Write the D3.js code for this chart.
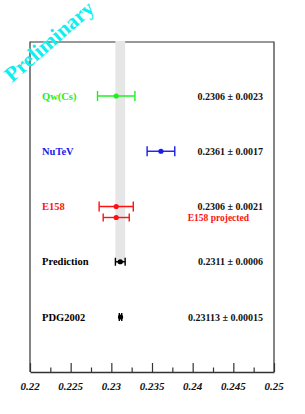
<!DOCTYPE html>
<html>
<head>
<meta charset="utf-8">
<script src="https://cdn.jsdelivr.net/npm/d3@7"></script>
<style>
  body { margin: 0; background: #fff; }
  svg { display: block; }
  text { font-family: "Liberation Serif", "DejaVu Serif", serif; font-weight: bold; }
</style>
</head>
<body>
<svg id="chart" width="305" height="414"></svg>
<script>
// measurements of sin^2(theta_W)
const names = ["Qw(Cs)", "NuTeV", "E158", "Prediction", "PDG2002"];
const values = [0.2306, 0.2361, 0.2306, 0.2311, 0.23113];
const errors = [0.0023, 0.0017, 0.0021, 0.0006, 0.00015];
const valueLabels = ["0.2306 \u00b1 0.0023", "0.2361 \u00b1 0.0017", "0.2306 \u00b1 0.0021",
                     "0.2311 \u00b1 0.0006", "0.23113 \u00b1 0.00015"];

// projected E158 result
const projName = "E158 projected";
const projValue = 0.2306;
const projError = 0.0016;

const xTicks = [0.22, 0.225, 0.23, 0.235, 0.24, 0.245, 0.25];
const xMinorTicks = [0.2225, 0.2275, 0.2325, 0.2375, 0.2425, 0.2475];

const colors = ["#22ee22", "#1a1aee", "#ff1111", "#000000", "#000000"];

const svg = d3.select("#chart");
const plotLeft = 30, plotRight = 274, plotTop = 42, plotBottom = 372;

const x = d3.scaleLinear().domain([0.22, 0.25]).range([plotLeft, plotRight]);
const y = d3.scalePoint().domain(names).range([96, 317]);

// frame (top, left, right)
const frame = d3.path();
frame.moveTo(plotLeft, plotBottom);
frame.lineTo(plotLeft, plotTop);
frame.lineTo(plotRight, plotTop);
frame.lineTo(plotRight, plotBottom);
svg.append("path")
    .attr("d", frame.toString())
    .attr("fill", "none")
    .attr("stroke", "#333")
    .attr("stroke-width", 1.2);

// grey band = prediction range, drawn over the top border
const pi = names.indexOf("Prediction");
svg.append("rect")
    .attr("x", x(values[pi] - errors[pi]))
    .attr("y", plotTop - 1)
    .attr("width", x(values[pi] + errors[pi]) - x(values[pi] - errors[pi]))
    .attr("height", y("Prediction") + 3 - plotTop)
    .attr("fill", "#e6e6e6");

// bottom axis, ticks point inward
const axis = svg.append("g").attr("transform", `translate(0,${plotBottom})`);
axis.call(d3.axisBottom(x).tickValues(xTicks).tickSize(-9).tickFormat("").tickSizeOuter(0));
const minor = axis.append("g").call(d3.axisBottom(x).tickValues(xMinorTicks).tickSize(-4.5).tickFormat(""));
minor.select("path.domain").remove();
axis.selectAll("path.domain").attr("stroke", "#333").attr("stroke-width", 1.6);
axis.selectAll(".tick line").attr("stroke", "#333").attr("stroke-width", 1.2);

svg.append("g").selectAll("text")
    .data(xTicks)
    .join("text")
    .attr("x", d => x(d))
    .attr("y", 390)
    .attr("text-anchor", "middle")
    .attr("font-size", 11)
    .attr("font-style", "italic")
    .attr("fill", "#111")
    .text(d => d3.format("")(d));

function errorBar(g, val, err, cy, color, cap) {
    g.append("line")
        .attr("x1", x(val - err)).attr("x2", x(val + err))
        .attr("y1", cy).attr("y2", cy)
        .attr("stroke", color).attr("stroke-width", 1.4);
    [val - err, val + err].forEach(v => {
        g.append("line")
            .attr("x1", x(v)).attr("x2", x(v))
            .attr("y1", cy - cap).attr("y2", cy + cap)
            .attr("stroke", color).attr("stroke-width", 1.4);
    });
    g.append("circle")
        .attr("cx", x(val)).attr("cy", cy).attr("r", 2.6)
        .attr("fill", color);
}

const rows = svg.append("g");
names.forEach((n, i) => {
    const cy = y(n);
    const cap = n == "Prediction" || n == "PDG2002" ? 4 : 5;
    errorBar(rows, values[i], errors[i], cy, colors[i], cap);
    rows.append("text")
        .attr("x", 42)
        .attr("y", cy + 3.5)
        .attr("font-size", 10.5)
        .attr("fill", colors[i])
        .text(n);
    rows.append("text")
        .attr("x", 263)
        .attr("y", cy + 3.5)
        .attr("text-anchor", "end")
        .attr("font-size", 10)
        .attr("fill", "#111")
        .text(valueLabels[i]);
});

// projected E158
const py = y("E158") + 11;
errorBar(rows, projValue, projError, py, colors[2], 4);
rows.append("text")
    .attr("x", 249)
    .attr("y", py + 3.5)
    .attr("text-anchor", "end")
    .attr("font-size", 9.5)
    .attr("fill", colors[2])
    .text(projName);

// watermark
svg.append("text")
    .attr("transform", "translate(12,83) rotate(-41)")
    .attr("font-size", 21.5)
    .attr("fill", "#11eeee")
    .text("Preliminary");
</script>
</body>
</html>
